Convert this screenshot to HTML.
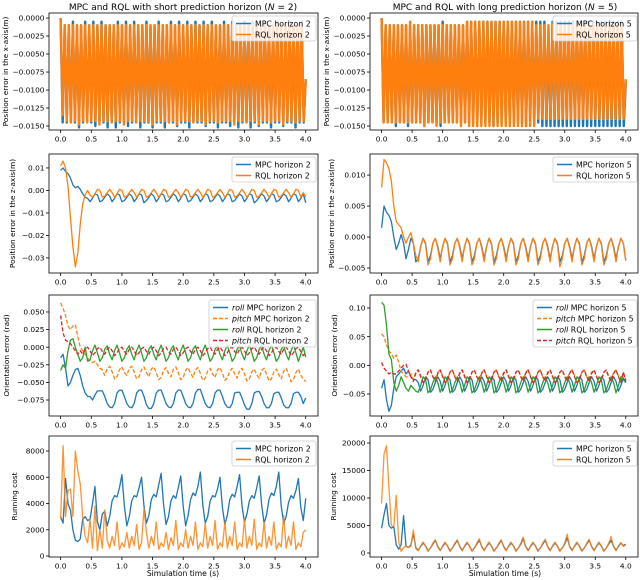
<!DOCTYPE html>
<html><head><meta charset="utf-8"><style>
html,body{margin:0;padding:0;background:#fff;}
svg{display:block;font-family:"DejaVu Sans","Liberation Sans",sans-serif;}
</style></head><body>
<svg id="fig" width="640" height="580" viewBox="0 0 640 580" xmlns="http://www.w3.org/2000/svg">
<text x="183" y="10" font-size="9" text-anchor="middle">MPC and RQL with short prediction horizon (<tspan font-style="italic">N</tspan> = 2)</text>
<text x="505" y="10" font-size="9" text-anchor="middle">MPC and RQL with long prediction horizon (<tspan font-style="italic">N</tspan> = 5)</text>
<text x="183" y="576" font-size="7.6" text-anchor="middle">Simulation time (s)</text>
<text x="505" y="576" font-size="7.6" text-anchor="middle">Simulation time (s)</text>
</svg>
<script>
// ---------- data ----------
const xTicks = [0,0.5,1,1.5,2,2.5,3,3.5,4];
const xTickLabels = ["0.0","0.5","1.0","1.5","2.0","2.5","3.0","3.5","4.0"];

const xMpc2 = [0,-0.0145,-0.001,-0.0145,-0.001,-0.0145,-0.0005,-0.0145,-0.001,-0.0152,
-0.001,-0.0145,-0.0005,-0.0145,-0.001,-0.0145,-0.0005,-0.0150,-0.001,-0.0145,
-0.0005,-0.0145,-0.001,-0.0152,-0.001,-0.0145,-0.001,-0.0152,-0.0005,-0.0145,
-0.001,-0.0145,-0.0005,-0.0150,-0.001,-0.0145,-0.0005,-0.0145,-0.001,-0.0152,
-0.001,-0.0145,-0.0005,-0.0145,-0.001,-0.0152,-0.001,-0.0145,-0.0005,-0.0145,
-0.001,-0.0152,-0.001,-0.0145,-0.0005,-0.0145,-0.001,-0.0150,-0.0005,-0.0145,
-0.001,-0.0145,-0.0005,-0.0152,-0.001,-0.0145,-0.0005,-0.0145,-0.001,-0.0145,
-0.0005,-0.0150,-0.001,-0.0145,-0.0005,-0.0145,-0.001,-0.0152,-0.001,-0.0145,
-0.0005,-0.0145,-0.001,-0.0150,-0.0005,-0.0145,-0.001,-0.0152,-0.001,-0.0145,
-0.0005,-0.0145,-0.001,-0.0152,-0.0005,-0.0145,-0.001,-0.0150,-0.001,-0.0145,
-0.0005,-0.0145,-0.001,-0.0152,-0.001,-0.0145,-0.0005,-0.0145,-0.001,-0.0150,
-0.001,-0.0145,-0.0005,-0.0145,-0.001,-0.0152,-0.001,-0.0145,-0.0005,-0.0145,-0.0085];
const xRql2 = [0,-0.0135,-0.001,-0.0143,-0.001,-0.0145,-0.001,-0.0143,-0.001,-0.0148,
-0.001,-0.0143,-0.001,-0.0145,-0.001,-0.0143,-0.001,-0.0143,-0.001,-0.0148,
-0.001,-0.0143,-0.001,-0.0143,-0.001,-0.0145,-0.001,-0.0143,-0.001,-0.0143,
-0.001,-0.0148,-0.001,-0.0143,-0.001,-0.0143,-0.001,-0.0145,-0.001,-0.0143,
-0.001,-0.0143,-0.001,-0.0143,-0.001,-0.0148,-0.001,-0.0143,-0.001,-0.0143,
-0.001,-0.0143,-0.001,-0.0145,-0.001,-0.0143,-0.001,-0.0148,-0.001,-0.0143,
-0.001,-0.0143,-0.001,-0.0143,-0.001,-0.0145,-0.001,-0.0143,-0.001,-0.0143,
-0.001,-0.0148,-0.001,-0.0143,-0.001,-0.0143,-0.001,-0.0145,-0.001,-0.0143,
-0.001,-0.0143,-0.001,-0.0143,-0.001,-0.0148,-0.001,-0.0143,-0.001,-0.0143,
-0.001,-0.0145,-0.001,-0.0143,-0.001,-0.0143,-0.001,-0.0148,-0.001,-0.0143,
-0.001,-0.0143,-0.001,-0.0145,-0.001,-0.0143,-0.001,-0.0143,-0.001,-0.0148,
-0.001,-0.0143,-0.001,-0.0143,-0.001,-0.0145,-0.001,-0.0143,-0.001,-0.0143,-0.0085];
const xMpc5 = [0,-0.0145,-0.001,-0.0145,-0.001,-0.0145,-0.001,-0.0150,-0.001,-0.0145,
-0.001,-0.0145,-0.001,-0.0150,-0.001,-0.0145,-0.001,-0.0145,-0.001,-0.0145,
-0.001,-0.0150,-0.001,-0.0145,-0.001,-0.0145,-0.001,-0.0145,-0.001,-0.0150,
-0.0005,-0.0145,-0.001,-0.0145,-0.001,-0.0145,-0.001,-0.0145,-0.001,-0.0145,
-0.001,-0.0145,-0.0005,-0.0145,-0.0005,-0.0145,-0.0005,-0.0150,-0.0005,-0.0145,
-0.0005,-0.0145,-0.0005,-0.0145,-0.0005,-0.0150,-0.0005,-0.0145,-0.0005,-0.0145,
-0.0005,-0.0145,-0.0005,-0.0150,-0.0005,-0.0145,-0.0005,-0.0145,-0.0005,-0.0145,
-0.0005,-0.0150,-0.0005,-0.0145,-0.0005,-0.0145,-0.0005,-0.0145,-0.0005,-0.0150,
-0.0005,-0.0150,-0.002,-0.0150,-0.0005,-0.0150,-0.0005,-0.0150,-0.0005,-0.0150,
-0.0005,-0.0150,-0.0005,-0.0150,-0.0005,-0.0150,-0.0005,-0.0150,-0.0005,-0.0150,
-0.0005,-0.0150,-0.0005,-0.0150,-0.0005,-0.0150,-0.0005,-0.0150,-0.0005,-0.0150,
-0.0005,-0.0150,-0.0005,-0.0150,-0.0005,-0.0150,-0.0005,-0.0150,-0.0005,-0.0150,-0.009];
const xRql5 = [0,-0.0145,-0.001,-0.0145,-0.001,-0.0145,-0.001,-0.0145,-0.001,-0.0145,
-0.001,-0.0145,-0.001,-0.0145,-0.0005,-0.0145,-0.001,-0.0145,-0.001,-0.0145,
-0.001,-0.0150,-0.001,-0.0145,-0.001,-0.0145,-0.001,-0.0150,-0.001,-0.0145,
-0.001,-0.0145,-0.001,-0.0145,-0.001,-0.0145,-0.001,-0.0145,-0.001,-0.0150,
-0.001,-0.0145,-0.0005,-0.0150,-0.0005,-0.0150,-0.0005,-0.0150,-0.0005,-0.0150,
-0.0005,-0.0150,-0.0005,-0.0150,-0.0005,-0.0150,-0.0005,-0.0150,-0.0005,-0.0150,
-0.0005,-0.0150,-0.0005,-0.0150,-0.0005,-0.0150,-0.0005,-0.0150,-0.0005,-0.0150,
-0.0005,-0.0150,-0.0005,-0.0150,-0.0005,-0.0150,-0.001,-0.0140,-0.001,-0.0140,
-0.001,-0.0140,-0.001,-0.0140,-0.001,-0.0140,-0.001,-0.0140,-0.001,-0.0140,
-0.001,-0.0140,-0.001,-0.0140,-0.001,-0.0140,-0.001,-0.0140,-0.001,-0.0140,
-0.001,-0.0140,-0.001,-0.0140,-0.001,-0.0140,-0.001,-0.0140,-0.001,-0.0140,
-0.001,-0.0140,-0.001,-0.0140,-0.001,-0.0140,-0.001,-0.0140,-0.001,-0.0140,-0.0085];

const zMpc2 = [0.009,0.010,0.0085,0.0075,0.0055,0.0025,0.0012,0.0018,0.0005,-0.0015,-0.003,-0.0035,
-0.005,-0.0035,-0.0015,-0.002,-0.005,-0.0045,-0.003,-0.0015,-0.0025,
-0.005,-0.0035,-0.0015,-0.002,-0.005,-0.0045,-0.003,-0.0015,-0.0025,
-0.005,-0.0035,-0.0015,-0.002,-0.0055,-0.0045,-0.003,-0.0015,-0.0025,
-0.005,-0.0035,-0.0015,-0.002,-0.005,-0.0045,-0.003,-0.0015,-0.0025,
-0.005,-0.0035,-0.0015,-0.002,-0.005,-0.0045,-0.003,-0.0015,-0.0025,
-0.005,-0.0035,-0.0015,-0.002,-0.005,-0.0045,-0.003,-0.0015,-0.0025,
-0.005,-0.0035,-0.0015,-0.002,-0.005,-0.0045,-0.003,-0.0015,-0.0025,
-0.005,-0.0035,-0.0015,-0.002,-0.0055,-0.0045,-0.003,-0.0015,-0.0025,
-0.005,-0.0035,-0.0015,-0.002,-0.005,-0.0045,-0.003,-0.0015,-0.0025,
-0.005,-0.0035,-0.0015,-0.002,-0.005,-0.0035,-0.0015,-0.0055];
const zRql2 = [0.011,0.013,0.010,0.002,-0.012,-0.025,-0.034,-0.028,-0.015,-0.006,-0.002,0.0,-0.002,
-0.003,-0.0015,0.0005,0.0,-0.003,-0.0025,-0.001,0.0005,-0.001,
-0.003,-0.0015,0.0005,0.0,-0.003,-0.0025,-0.001,0.0005,-0.001,
-0.003,-0.0015,0.0005,0.0,-0.003,-0.0025,-0.001,0.0005,-0.001,
-0.003,-0.0015,0.0005,0.0,-0.003,-0.0025,-0.001,0.0005,-0.001,
-0.003,-0.0015,0.0005,0.0,-0.003,-0.0025,-0.001,0.0005,-0.001,
-0.003,-0.0015,0.0005,0.0,-0.003,-0.0025,-0.001,0.0005,-0.001,
-0.003,-0.0015,0.0005,0.0,-0.003,-0.0025,-0.001,0.0005,-0.001,
-0.003,-0.0015,0.0005,0.0,-0.003,-0.0025,-0.001,0.0005,-0.001,
-0.003,-0.0015,0.0005,0.0,-0.003,-0.0025,-0.001,0.0005,-0.001,
-0.003,-0.0015,0.0005,0.0,-0.003,-0.001,-0.003];
const zMpc5 = [0.0015,0.005,0.004,0.0035,0.0025,0.0,-0.002,-0.001,0.0004,-0.001,-0.0035,-0.002,-0.0002,-0.001,-0.004,
-0.0035,-0.0015,-0.0002,-0.001,-0.004,-0.003,-0.001,-0.0002,-0.0015,
-0.0035,-0.0015,-0.0002,-0.001,-0.004,-0.003,-0.001,-0.0002,-0.0015,
-0.0035,-0.0015,-0.0002,-0.001,-0.004,-0.003,-0.001,-0.0002,-0.0015,
-0.0035,-0.0015,-0.0002,-0.001,-0.004,-0.003,-0.001,-0.0002,-0.0015,
-0.0035,-0.0015,-0.0002,-0.001,-0.004,-0.003,-0.001,-0.0002,-0.0015,
-0.0035,-0.0015,-0.0002,-0.001,-0.004,-0.003,-0.001,-0.0002,-0.0015,
-0.0035,-0.0015,-0.0002,-0.001,-0.004,-0.003,-0.001,-0.0002,-0.0015,
-0.0035,-0.0015,-0.0002,-0.001,-0.004,-0.003,-0.001,-0.0002,-0.0015,
-0.0035,-0.0015,-0.0002,-0.001,-0.004,-0.003,-0.001,-0.0002,-0.0015,
-0.0035,-0.0015,-0.0002,-0.001,-0.0038];
const zRql5 = [0.008,0.0125,0.012,0.011,0.009,0.005,0.0025,0.002,0.0015,0.0,-0.001,0.0,0.0007,-0.001,-0.003,
-0.004,-0.0015,-0.0002,-0.0012,-0.0045,-0.0035,-0.001,-0.0002,-0.0018,
-0.004,-0.0015,-0.0002,-0.0012,-0.0045,-0.0035,-0.001,-0.0002,-0.0018,
-0.004,-0.0015,-0.0002,-0.0012,-0.0045,-0.0035,-0.001,-0.0002,-0.0018,
-0.004,-0.0015,-0.0002,-0.0012,-0.0045,-0.0035,-0.001,-0.0002,-0.0018,
-0.004,-0.0015,-0.0002,-0.0012,-0.0045,-0.0035,-0.001,-0.0002,-0.0018,
-0.004,-0.0015,-0.0002,-0.0012,-0.0045,-0.0035,-0.001,-0.0002,-0.0018,
-0.004,-0.0015,-0.0002,-0.0012,-0.0048,-0.0035,-0.001,-0.0002,-0.0018,
-0.004,-0.0015,-0.0002,-0.0012,-0.0045,-0.0035,-0.001,-0.0002,-0.0018,
-0.004,-0.0015,-0.0002,-0.0012,-0.0045,-0.0035,-0.001,-0.0002,-0.0018,
-0.004,-0.0015,-0.0002,-0.001,-0.0038];

const oMpcRoll2 = [-0.015,-0.01,-0.03,-0.055,-0.05,-0.04,-0.032,-0.03,-0.04,-0.055,-0.065,-0.07,-0.07,-0.075,-0.068,-0.062,-0.062,-0.062,-0.07,
-0.08,-0.085,-0.086,-0.08,-0.065,-0.061,-0.061,-0.07,
-0.08,-0.085,-0.086,-0.08,-0.065,-0.061,-0.061,-0.07,
-0.082,-0.087,-0.087,-0.08,-0.065,-0.061,-0.061,-0.07,
-0.08,-0.085,-0.086,-0.08,-0.065,-0.061,-0.061,-0.07,
-0.08,-0.085,-0.086,-0.08,-0.065,-0.06,-0.06,-0.07,
-0.08,-0.085,-0.086,-0.08,-0.065,-0.061,-0.061,-0.07,
-0.08,-0.085,-0.086,-0.08,-0.065,-0.064,-0.064,-0.072,
-0.082,-0.088,-0.088,-0.08,-0.065,-0.063,-0.063,-0.07,
-0.08,-0.086,-0.086,-0.08,-0.066,-0.064,-0.064,-0.072,
-0.082,-0.086,-0.086,-0.08,-0.066,-0.064,-0.064,-0.07,
-0.08,-0.072];
const oMpcPitch2 = [0.063,0.055,0.045,0.03,0.025,0.03,0.032,0.015,0.0,-0.005,-0.01,-0.015,-0.02,-0.022,-0.02,-0.025,-0.03,-0.032,
-0.04,-0.03,-0.027,-0.035,-0.045,-0.042,-0.032,-0.028,-0.036,
-0.04,-0.03,-0.027,-0.035,-0.045,-0.042,-0.032,-0.028,-0.036,
-0.042,-0.031,-0.028,-0.036,-0.046,-0.043,-0.033,-0.029,-0.037,
-0.042,-0.031,-0.028,-0.036,-0.046,-0.043,-0.033,-0.029,-0.037,
-0.043,-0.032,-0.029,-0.037,-0.047,-0.044,-0.034,-0.03,-0.038,
-0.043,-0.032,-0.029,-0.037,-0.047,-0.044,-0.034,-0.03,-0.038,
-0.044,-0.033,-0.03,-0.038,-0.048,-0.045,-0.035,-0.031,-0.039,
-0.044,-0.033,-0.03,-0.038,-0.048,-0.045,-0.035,-0.031,-0.039,
-0.045,-0.034,-0.03,-0.038,-0.049,-0.046,-0.036,-0.031,-0.04,
-0.045,-0.049];
const oRqlRoll2 = [-0.033,-0.025,-0.03,-0.005,0.01,0.012,0.0,-0.01,-0.02,-0.015,0.0,-0.02,
-0.018,-0.005,0.003,-0.008,-0.02,-0.015,-0.003,0.002,-0.01,
-0.018,-0.005,0.003,-0.008,-0.02,-0.015,-0.003,0.002,-0.01,
-0.018,-0.005,0.003,-0.008,-0.02,-0.015,-0.003,0.002,-0.01,
-0.018,-0.005,0.003,-0.008,-0.02,-0.015,-0.003,0.002,-0.01,
-0.018,-0.005,0.003,-0.008,-0.02,-0.015,-0.003,0.002,-0.01,
-0.018,-0.005,0.003,-0.008,-0.02,-0.015,-0.003,0.002,-0.01,
-0.018,-0.005,0.003,-0.008,-0.02,-0.015,-0.003,0.002,-0.01,
-0.018,-0.005,0.003,-0.008,-0.02,-0.015,-0.003,0.002,-0.01,
-0.018,-0.005,0.003,-0.008,-0.02,-0.015,-0.003,0.002,-0.01,
-0.018,-0.005,0.003,-0.008,-0.02,-0.01,0.0,-0.014];
const oRqlPitch2 = [0.045,0.02,0.01,0.008,0.005,0.0,-0.005,-0.01,-0.005,
-0.01,-0.003,0.0,-0.005,-0.012,-0.008,-0.002,0.0,-0.006,
-0.01,-0.003,0.0,-0.005,-0.012,-0.008,-0.002,0.0,-0.006,
-0.01,-0.003,0.0,-0.005,-0.012,-0.008,-0.002,0.0,-0.006,
-0.01,-0.003,0.0,-0.005,-0.012,-0.008,-0.002,0.0,-0.006,
-0.01,-0.003,0.0,-0.005,-0.012,-0.008,-0.002,0.0,-0.006,
-0.01,-0.003,0.0,-0.005,-0.012,-0.008,-0.002,0.0,-0.006,
-0.01,-0.003,0.0,-0.005,-0.012,-0.008,-0.002,0.0,-0.006,
-0.01,-0.003,0.0,-0.005,-0.012,-0.008,-0.002,0.0,-0.006,
-0.01,-0.003,0.0,-0.005,-0.012,-0.008,-0.002,0.0,-0.006,
-0.01,-0.003,0.0,-0.005,-0.012,-0.008,-0.002,0.0,-0.006,
-0.012,-0.008];

const oMpcRoll5 = [-0.04,-0.025,-0.06,-0.08,-0.07,-0.04,-0.02,-0.015,-0.01,-0.005,-0.015,-0.01,-0.02,-0.025,-0.025,-0.03,
-0.045,-0.035,-0.02,-0.025,-0.047,-0.042,-0.03,-0.02,-0.028,
-0.045,-0.035,-0.02,-0.025,-0.047,-0.042,-0.03,-0.02,-0.028,
-0.045,-0.035,-0.02,-0.025,-0.047,-0.042,-0.03,-0.02,-0.028,
-0.045,-0.035,-0.02,-0.025,-0.047,-0.042,-0.03,-0.02,-0.028,
-0.045,-0.035,-0.02,-0.025,-0.047,-0.042,-0.03,-0.02,-0.028,
-0.045,-0.035,-0.02,-0.025,-0.047,-0.042,-0.03,-0.02,-0.028,
-0.045,-0.035,-0.02,-0.025,-0.047,-0.042,-0.03,-0.02,-0.028,
-0.045,-0.035,-0.02,-0.025,-0.047,-0.042,-0.03,-0.02,-0.028,
-0.045,-0.035,-0.02,-0.025,-0.047,-0.042,-0.03,-0.02,-0.028,
-0.045,-0.035,-0.022,-0.03];
const oMpcPitch5 = [0.055,0.05,0.035,0.025,0.02,0.012,0.018,0.005,-0.01,-0.015,-0.02,-0.02,-0.015,
-0.025,-0.012,-0.008,-0.018,-0.03,-0.025,-0.012,-0.008,-0.02,
-0.025,-0.012,-0.008,-0.018,-0.03,-0.025,-0.012,-0.008,-0.02,
-0.025,-0.012,-0.008,-0.018,-0.03,-0.025,-0.012,-0.008,-0.02,
-0.025,-0.012,-0.008,-0.018,-0.03,-0.025,-0.012,-0.008,-0.02,
-0.025,-0.012,-0.008,-0.018,-0.03,-0.025,-0.012,-0.008,-0.02,
-0.025,-0.012,-0.008,-0.018,-0.03,-0.025,-0.012,-0.008,-0.02,
-0.025,-0.012,-0.008,-0.018,-0.03,-0.025,-0.012,-0.008,-0.02,
-0.025,-0.012,-0.008,-0.018,-0.03,-0.025,-0.012,-0.008,-0.02,
-0.025,-0.012,-0.008,-0.018,-0.03,-0.025,-0.012,-0.008,-0.02,
-0.025,-0.012,-0.008,-0.018,-0.028,-0.012,-0.025];
const oRqlRoll5 = [0.11,0.105,0.07,0.02,0.01,-0.03,-0.045,-0.035,-0.02,-0.03,-0.04,-0.045,-0.035,-0.04,-0.045,
-0.047,-0.035,-0.02,-0.025,-0.048,-0.043,-0.03,-0.02,-0.03,
-0.047,-0.035,-0.02,-0.025,-0.048,-0.043,-0.03,-0.02,-0.03,
-0.047,-0.035,-0.02,-0.025,-0.048,-0.043,-0.03,-0.02,-0.03,
-0.047,-0.035,-0.02,-0.025,-0.048,-0.043,-0.03,-0.02,-0.03,
-0.047,-0.035,-0.02,-0.025,-0.048,-0.043,-0.03,-0.02,-0.03,
-0.047,-0.035,-0.02,-0.025,-0.048,-0.043,-0.03,-0.02,-0.03,
-0.047,-0.035,-0.02,-0.025,-0.048,-0.043,-0.03,-0.02,-0.03,
-0.047,-0.035,-0.02,-0.025,-0.048,-0.043,-0.03,-0.02,-0.03,
-0.047,-0.035,-0.02,-0.025,-0.048,-0.043,-0.03,-0.02,-0.03,
-0.048,-0.035,-0.02,-0.025,-0.03];
const oRqlPitch5 = [0.005,-0.005,-0.01,-0.015,-0.012,-0.015,-0.015,-0.01,-0.005,0.0,0.002,-0.01,-0.02,
-0.028,-0.014,-0.008,-0.02,-0.03,-0.026,-0.012,-0.008,-0.02,
-0.028,-0.014,-0.008,-0.02,-0.03,-0.026,-0.012,-0.008,-0.02,
-0.028,-0.014,-0.008,-0.02,-0.03,-0.026,-0.012,-0.008,-0.02,
-0.028,-0.014,-0.008,-0.02,-0.03,-0.026,-0.012,-0.008,-0.02,
-0.028,-0.014,-0.008,-0.02,-0.03,-0.026,-0.012,-0.008,-0.02,
-0.028,-0.014,-0.008,-0.02,-0.03,-0.026,-0.012,-0.008,-0.02,
-0.028,-0.014,-0.008,-0.02,-0.03,-0.026,-0.012,-0.008,-0.02,
-0.028,-0.014,-0.008,-0.02,-0.03,-0.026,-0.012,-0.008,-0.02,
-0.028,-0.014,-0.008,-0.02,-0.03,-0.026,-0.012,-0.008,-0.02,
-0.028,-0.014,-0.008,-0.02,-0.03,-0.012,-0.028];

const cMpc2 = [3000,2500,5900,4000,3500,2000,1200,1100,1300,2800,3000,2700,2800,4000,5300,2600,2000,3200,3400,
2300,3000,4200,4600,4500,5200,6200,3800,
2300,3000,4200,4600,4500,5200,6000,3800,
2500,3100,4300,4700,4500,5400,6300,3900,
2400,3000,4200,4600,4400,5200,6100,3800,
2300,3100,4300,4800,4600,5300,6400,3900,
2500,3000,4200,4600,4500,5100,6000,3700,
2400,3100,4300,4700,4500,5300,6200,3800,
2600,3200,4200,4600,4400,5200,6100,3900,
2500,3100,4300,4800,4600,5300,6400,3800,
2500,3000,4100,4600,4400,5000,5900,3700,
2700,4400];
const cRql2 = [2800,8400,3000,5000,5100,3000,8000,6500,5500,3000,1500,1000,2800,600,3800,400,2000,600,3500,1200,
600,1500,800,2600,500,1000,700,1800,
600,1500,800,2400,500,1000,3600,1800,
600,1500,800,2600,500,1000,700,1800,
500,1400,800,2700,500,1000,700,2000,
600,1500,800,2600,500,1000,700,2500,
600,1500,800,2700,500,1000,700,2600,
600,1500,800,2600,500,1000,700,2800,
600,1500,800,2800,500,1000,700,2600,
600,1500,800,2600,500,1000,700,3100,
600,1500,800,2600,500,1000,700,1800,
2000];
const cMpc5 = [4500,7000,9000,5000,4500,4800,1500,700,1500,6800,1200,1000,1500,3500,1000,
500,1200,1800,1300,400,900,1600,2300,1200,
500,1200,1800,1300,400,900,1600,2300,1200,
500,1200,1800,1300,400,900,1600,2300,1200,
500,1200,1800,1300,400,900,1600,2300,1200,
500,1200,1800,1300,400,900,1600,2600,1200,
500,1200,1800,1300,400,900,1600,2300,1200,
500,1200,1800,1300,400,900,1600,2800,1200,
500,1200,1800,1300,400,900,1600,2300,1200,
500,1200,1800,1300,400,900,1600,2300,1200,
500,1200,1800,1300,1600];
const cRql5 = [9000,18000,19500,12000,5000,4800,10500,2000,300,1000,1300,1000,1200,4200,800,
400,1300,2000,1200,300,900,1800,2400,1100,
400,1300,2000,1200,300,900,1800,2400,1100,
400,1300,2000,1200,300,900,1800,2600,1100,
400,1300,2000,1200,300,900,1800,2400,1100,
400,1300,2000,1200,300,900,1800,2900,1100,
400,1300,2000,1200,300,900,1800,2500,1100,
400,1300,2000,1200,300,900,1800,3400,1100,
400,1300,2000,1200,300,900,1800,2500,1100,
400,1300,2000,1200,300,900,1800,3000,1100,
400,1300,1900,1200,1500];

// tick arrays
const yTicksX = [0,-0.0025,-0.005,-0.0075,-0.01,-0.0125,-0.015];
const yLabelsX = ["0.0000","−0.0025","−0.0050","−0.0075","−0.0100","−0.0125","−0.0150"];
const yTicksZ2 = [0.01,0,-0.01,-0.02,-0.03];
const yLabelsZ2 = ["0.01","0.00","−0.01","−0.02","−0.03"];
const yTicksZ5 = [0.01,0.005,0,-0.005];
const yLabelsZ5 = ["0.010","0.005","0.000","−0.005"];
const yTicksO2 = [0.05,0.025,0,-0.025,-0.05,-0.075];
const yLabelsO2 = ["0.050","0.025","0.000","−0.025","−0.050","−0.075"];
const yTicksO5 = [0.1,0.05,0,-0.05];
const yLabelsO5 = ["0.10","0.05","0.00","−0.05"];
const yTicksC2 = [8000,6000,4000,2000,0];
const yLabelsC2 = ["8000","6000","4000","2000","0"];
const yTicksC5 = [20000,15000,10000,5000,0];
const yLabelsC5 = ["20000","15000","10000","5000","0"];

// ---------- drawing ----------
const NS = "http://www.w3.org/2000/svg";
const svg = document.getElementById('fig');
const C = {b:"#1f77b4", o:"#ff7f0e", g:"#2ca02c", r:"#d62728"};
function mk(tag, attrs, parent){
  const e = document.createElementNS(NS, tag);
  for (const k in attrs) e.setAttribute(k, attrs[k]);
  (parent||svg).appendChild(e);
  return e;
}
const panels = [
 {id:"x-error-n2", x0:49,x1:318,y0:13,y1:130, yd:[-0.01555,0.0007], yt:yTicksX, yl:yLabelsX, lab:"Position error in the x-axis(m)", labx:5, lw:2.4,
  s:[[xMpc2,C.b,"",""],[xRql2,C.o,"",""]], leg:[232,16,84,25], le:[["","MPC horizon 2",C.b,""],["","RQL horizon 2",C.o,""]]},
 {id:"x-error-n5", x0:370,x1:638,y0:13,y1:130, yd:[-0.01555,0.0007], yt:yTicksX, yl:yLabelsX, lab:"Position error in the x-axis(m)", labx:326, lw:2.4,
  s:[[xMpc5,C.b,"",""],[xRql5,C.o,"",""]], leg:[553,16,84,25], le:[["","MPC horizon 5",C.b,""],["","RQL horizon 5",C.o,""]]},
 {id:"z-error-n2", x0:49,x1:318,y0:154,y1:273, yd:[-0.0367,0.0162], yt:yTicksZ2, yl:yLabelsZ2, lab:"Position error in the z-axis(m)", labx:12, lw:1.3,
  s:[[zMpc2,C.b,"",""],[zRql2,C.o,"",""]], leg:[232,157,84,25], le:[["","MPC horizon 2",C.b,""],["","RQL horizon 2",C.o,""]]},
 {id:"z-error-n5", x0:370,x1:638,y0:154,y1:273, yd:[-0.0058,0.0134], yt:yTicksZ5, yl:yLabelsZ5, lab:"Position error in the z-axis(m)", labx:331, lw:1.3,
  s:[[zMpc5,C.b,"",""],[zRql5,C.o,"",""]], leg:[553,157,84,25], le:[["","MPC horizon 5",C.b,""],["","RQL horizon 5",C.o,""]]},
 {id:"orientation-n2", x0:49,x1:318,y0:295,y1:416, yd:[-0.0977,0.0741], yt:yTicksO2, yl:yLabelsO2, lab:"Orientation error (rad)", labx:6, lw:1.3,
  s:[[oMpcRoll2,C.b,"",""],[oMpcPitch2,C.o,"4,2",""],[oRqlRoll2,C.g,"",""],[oRqlPitch2,C.r,"4,2",""]], leg:[209,300,107,47],
  le:[["roll"," MPC horizon 2",C.b,""],["pitch"," MPC horizon 2",C.o,"4,2"],["roll"," RQL horizon 2",C.g,""],["pitch"," RQL horizon 2",C.r,"4,2"]]},
 {id:"orientation-n5", x0:370,x1:638,y0:295,y1:416, yd:[-0.0884,0.1227], yt:yTicksO5, yl:yLabelsO5, lab:"Orientation error (rad)", labx:334, lw:1.3,
  s:[[oMpcRoll5,C.b,"",""],[oMpcPitch5,C.o,"4,2",""],[oRqlRoll5,C.g,"",""],[oRqlPitch5,C.r,"4,2",""]], leg:[533,300,104,47],
  le:[["roll"," MPC horizon 5",C.b,""],["pitch"," MPC horizon 5",C.o,"4,2"],["roll"," RQL horizon 5",C.g,""],["pitch"," RQL horizon 5",C.r,"4,2"]]},
 {id:"cost-n2", x0:49,x1:318,y0:436,y1:557, yd:[-76,9143], yt:yTicksC2, yl:yLabelsC2, lab:"Running cost", labx:14, lw:1.3,
  s:[[cMpc2,C.b,"",""],[cRql2,C.o,"","0.85"]], leg:[232,441,84,25], le:[["","MPC horizon 2",C.b,""],["","RQL horizon 2",C.o,""]]},
 {id:"cost-n5", x0:370,x1:638,y0:436,y1:557, yd:[-727,21270], yt:yTicksC5, yl:yLabelsC5, lab:"Running cost", labx:333, lw:1.3,
  s:[[cMpc5,C.b,"",""],[cRql5,C.o,"","0.85"]], leg:[553,441,84,25], le:[["","MPC horizon 5",C.b,""],["","RQL horizon 5",C.o,""]]}
];
const XD = [-0.19, 4.2];
const FS = 7.4;
const LFS = 7.8;
panels.forEach(p=>{
  const g = mk('g',{});
  
  
  const sx = v => p.x0 + (v - XD[0])/(XD[1]-XD[0])*(p.x1-p.x0);
  const sy = v => p.y1 - (v - p.yd[0])/(p.yd[1]-p.yd[0])*(p.y1-p.y0);
  const cid = 'clip-' + p.id;
  const cp = mk('clipPath',{id:cid}, g);
  mk('rect',{x:p.x0,y:p.y0,width:p.x1-p.x0,height:p.y1-p.y0}, cp);
  const lines = mk('g',{'clip-path':'url(#'+cid+')'}, g);
  p.s.forEach((s, si)=>{
    const arr = s[0], n = arr.length;
    let d = '';
    arr.forEach((v,i)=>{ const t = 4*i/(n-1); d += (i?'L':'M') + sx(t).toFixed(2) + ',' + sy(v).toFixed(2); });
    const attrs = {d:d, fill:'none', stroke:s[1], 'stroke-width':p.lw, 'stroke-linejoin':'round'};
    if (s[2]) attrs['stroke-dasharray'] = s[2];
    if (s[3]) attrs['stroke-opacity'] = s[3];
    const path = mk('path', attrs, lines);
    
    
  });
  const fr = mk('rect',{x:p.x0,y:p.y0,width:p.x1-p.x0,height:p.y1-p.y0,fill:'none',stroke:'#000','stroke-width':0.8}, g);
  
  
  xTicks.forEach((t,i)=>{
    const x = sx(t);
    mk('line',{x1:x,x2:x,y1:p.y1,y2:p.y1+3,stroke:'#000','stroke-width':0.8}, g);
    const tx = mk('text',{x:x,y:p.y1+11.5,'font-size':FS,'text-anchor':'middle'}, g);
    tx.textContent = xTickLabels[i];
    
    
  });
  p.yt.forEach((t,i)=>{
    const y = sy(t);
    mk('line',{x1:p.x0-3,x2:p.x0,y1:y,y2:y,stroke:'#000','stroke-width':0.8}, g);
    const ty = mk('text',{x:p.x0-4.5,y:y+2.6,'font-size':FS,'text-anchor':'end'}, g);
    ty.textContent = p.yl[i];
    
    
  });
  const cy = (p.y0+p.y1)/2;
  const lx = p.labx+3;
  const yl = mk('text',{x:lx,y:cy,'font-size':FS,'text-anchor':'middle',transform:'rotate(-90 '+lx+' '+cy+')'}, g);
  yl.textContent = p.lab;
  
  
  const L = p.leg;
  const lg = mk('g',{}, g);
  
  
  mk('rect',{x:L[0],y:L[1],width:L[2],height:L[3],rx:2,fill:'#fff','fill-opacity':0.8,stroke:'#ccc','stroke-width':0.8}, lg);
  const step = (L[3]-3)/p.le.length;
  p.le.forEach((e,i)=>{
    const yy = L[1] + 2 + step*(i+0.5);
    const la = {x1:L[0]+4,x2:L[0]+19,y1:yy,y2:yy,stroke:e[2],'stroke-width':1.5};
    if (e[3]) la['stroke-dasharray'] = e[3];
    mk('line', la, lg);
    const tt = mk('text',{x:L[0]+23,y:yy+2.8,'font-size':LFS}, lg);
    if (e[0]) { const it = mk('tspan',{'font-style':'italic'}, tt); it.textContent = e[0]; const rest = mk('tspan',{}, tt); rest.textContent = e[1]; }
    else tt.textContent = e[1];
    
    
  });
});
</script>
</body></html>
